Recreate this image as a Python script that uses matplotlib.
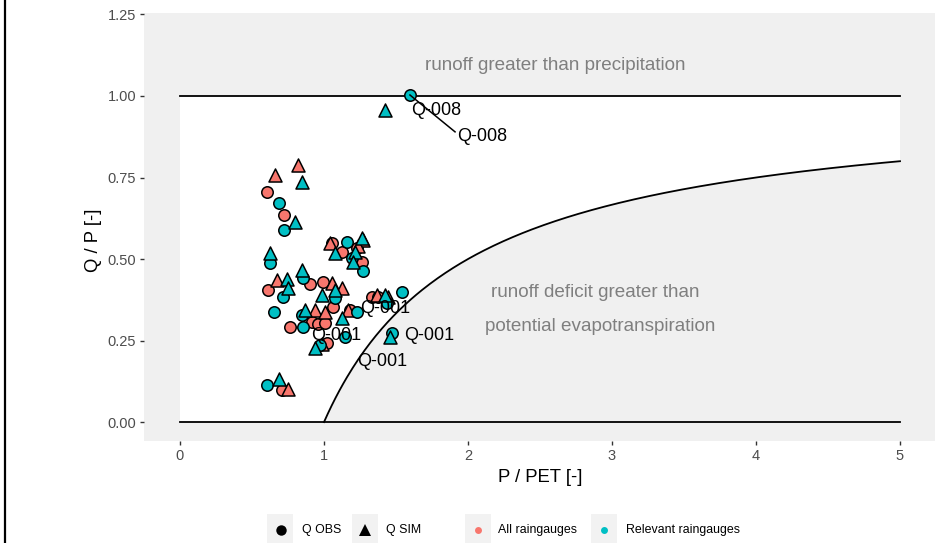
import numpy as np
import matplotlib
matplotlib.use("Agg")
import matplotlib.pyplot as plt
from matplotlib.patches import Rectangle, Polygon
from matplotlib.lines import Line2D

plt.rcParams['font.family'] = ['Liberation Sans', 'DejaVu Sans']

# ---- data: P/PET (x) and Q/P (y) per catchment -------------------------
obs_all_x = [0.604, 0.722, 0.903, 0.611, 0.993, 0.764, 0.917, 0.958, 1.007, 1.056,
             1.125, 1.229, 1.264, 1.063, 1.333, 1.375, 1.181, 0.708, 1.021]
obs_all_y = [0.706, 0.635, 0.423, 0.405, 0.429, 0.291, 0.307, 0.301, 0.304, 0.549,
             0.521, 0.534, 0.491, 0.353, 0.383, 0.383, 0.344, 0.098, 0.242]

obs_rel_x = [0.688, 0.722, 0.625, 0.854, 0.715, 0.653, 0.847, 0.854, 1.160, 1.194,
             1.271, 1.076, 1.542, 1.438, 1.229, 1.146, 1.472, 0.604, 1.597, 0.972]
obs_rel_y = [0.672, 0.589, 0.488, 0.442, 0.383, 0.337, 0.328, 0.291, 0.552, 0.503,
             0.463, 0.380, 0.399, 0.365, 0.337, 0.261, 0.273, 0.113, 1.003, 0.236]

sim_all_x = [0.819, 0.660, 0.674, 1.056, 0.938, 1.007, 1.042, 1.271, 1.125, 1.368,
             1.444, 1.167, 0.750, 0.986, 1.236]
sim_all_y = [0.788, 0.758, 0.436, 0.426, 0.344, 0.337, 0.549, 0.558, 0.411, 0.390,
             0.383, 0.344, 0.101, 0.239, 0.540]

sim_rel_x = [0.847, 0.799, 0.625, 0.743, 0.847, 0.750, 0.986, 1.076, 0.868, 1.076,
             1.264, 1.215, 1.201, 1.424, 1.125, 0.938, 1.458, 0.688, 1.424]
sim_rel_y = [0.736, 0.613, 0.518, 0.439, 0.466, 0.411, 0.390, 0.405, 0.344, 0.518,
             0.564, 0.521, 0.491, 0.390, 0.319, 0.227, 0.261, 0.132, 0.957]

# catchment labels (repelled positions) and the one leader segment
label_text = ["Q-008", "Q-008", "Q-001", "Q-001", "Q-001", "Q-001"]
label_x = [1.778, 2.100, 1.427, 1.083, 1.733, 1.406]
label_y = [0.957, 0.877, 0.347, 0.267, 0.267, 0.187]
seg_x = [1.597, 1.91]
seg_y = [1.003, 0.89]

# ---- styling ------------------------------------------------------------
COL_ALL = "#F8766D"
COL_REL = "#00BFC4"
PANEL = "#F0F0F0"
W, H = 935, 543

fig = plt.figure(figsize=(W / 100, H / 100), dpi=100)
ax = fig.add_axes([144 / W, 102 / H, 792 / W, 428.5 / H])
ax.set_xlim(-0.25, 5.25)
ax.set_ylim(-0.058, 1.256)
ax.set_facecolor(PANEL)
for s in ax.spines.values():
    s.set_visible(False)

# white "feasible" Budyko region between energy and water limits
xs = np.linspace(0, 5, 400)
lower = np.maximum(0, 1 - 1 / np.maximum(xs, 1e-9))
lower[xs < 1] = 0
poly_x = np.concatenate([xs, xs[::-1]])
poly_y = np.concatenate([np.ones_like(xs), lower[::-1]])
ax.add_patch(Polygon(np.column_stack([poly_x, poly_y]), closed=True,
                     facecolor="white", edgecolor="none", zorder=0.5))

ax.plot([0, 5], [1, 1], color="black", lw=1.3, zorder=1)
ax.plot([0, 5], [0, 0], color="black", lw=1.3, zorder=1)
xc = np.linspace(1, 5, 300)
ax.plot(xc, 1 - 1 / xc, color="black", lw=1.3, zorder=1)

ax.text(2.604, 1.095, "runoff greater than precipitation", color="#7F7F7F",
        fontsize=13.6, ha="center", va="center")
ax.text(2.882, 0.396, "runoff deficit greater than", color="#7F7F7F",
        fontsize=13.6, ha="center", va="center")
ax.text(2.917, 0.294, "potential evapotranspiration", color="#7F7F7F",
        fontsize=13.6, ha="center", va="center")

# points
kw = dict(edgecolors="black", linewidths=1.1, zorder=3)
ax.scatter(obs_all_x, obs_all_y, s=68, marker="o", facecolors=COL_ALL, **kw)
ax.scatter(sim_all_x, sim_all_y, s=88, marker="^", facecolors=COL_ALL, **kw)
ax.scatter(obs_rel_x, obs_rel_y, s=68, marker="o", facecolors=COL_REL, **kw)
ax.scatter(sim_rel_x, sim_rel_y, s=88, marker="^", facecolors=COL_REL, **kw)

ax.plot(seg_x, seg_y, color="black", lw=1.1, zorder=4)
for t, x, y in zip(label_text, label_x, label_y):
    ax.text(x, y, t, fontsize=13, ha="center", va="center", color="black", zorder=5)

# axes ticks and titles
ax.set_xticks([0, 1, 2, 3, 4, 5])
ax.set_xticklabels(["0", "1", "2", "3", "4", "5"])
ax.set_yticks([0, 0.25, 0.5, 0.75, 1.0, 1.25])
ax.set_yticklabels(["0.00", "0.25", "0.50", "0.75", "1.00", "1.25"])
ax.tick_params(axis="both", length=3.2, width=1.0, color="#333333",
               labelcolor="#4D4D4D", labelsize=10.5, pad=2.5)

fig.text(540 / W, 1 - 477 / H, "P / PET [-]", fontsize=13.3, ha="center", va="center")
fig.text(93 / W, 1 - 240 / H, "Q / P [-]", fontsize=13.3, ha="center", va="center",
         rotation=90)

# left border rule
fig.add_artist(Line2D([4.5 / W, 4.5 / W], [0, 1], transform=fig.transFigure,
                      color="black", lw=1.6))

# legend (bottom)
ly = 1 - 530 / H
keys = [
    (267, 280.5, "o", "black", 7.5, "Q OBS", 302),
    (352, 364.5, "^", "black", 9.0, "Q SIM", 386),
    (465, 478, "o", COL_ALL, 5.0, "All raingauges", 498),
    (591, 604, "o", COL_REL, 5.0, "Relevant raingauges", 626),
]
for x0, xm, mk, col, ms, txt, xt in keys:
    fig.add_artist(Rectangle((x0 / W, 1 - 543 / H), 26 / W, 29 / H,
                             transform=fig.transFigure, facecolor="#F2F2F2",
                             edgecolor="none"))
    fig.add_artist(Line2D([xm / W], [ly], transform=fig.transFigure, marker=mk,
                          markersize=ms, color=col, markeredgewidth=0, linestyle="none"))
    fig.text(xt / W, ly, txt, fontsize=8.9, ha="left", va="center", color="black")

fig.savefig("out.png", dpi=100)
